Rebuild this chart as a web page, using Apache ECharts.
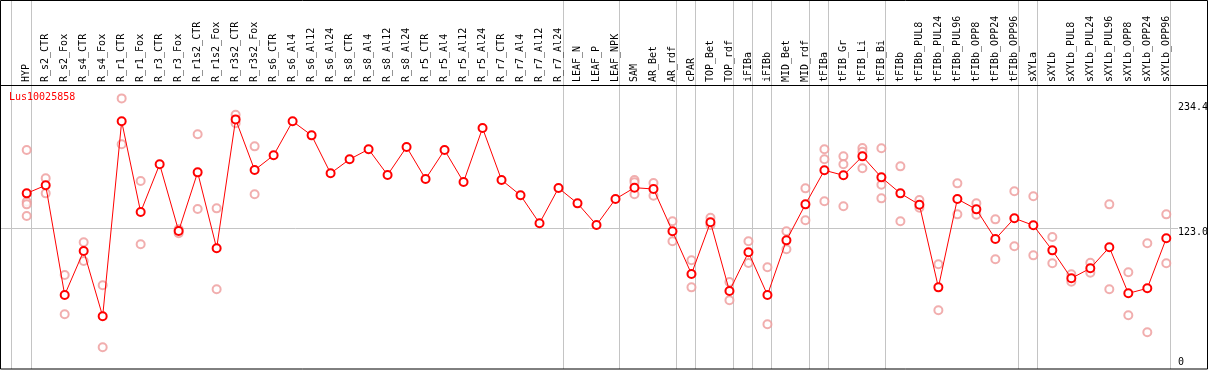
<!DOCTYPE html>
<html><head><meta charset="utf-8">
<script src="https://cdn.jsdelivr.net/npm/echarts@6/dist/echarts.min.js"></script>
<style>html,body{margin:0;padding:0;background:#fff}#c{width:1209px;height:370px}</style>
</head><body><div id="c"></div>
<script>
const categories = ['HYP','R_s2_CTR','R_s2_Fox','R_s4_CTR','R_s4_Fox','R_r1_CTR','R_r1_Fox','R_r3_CTR','R_r3_Fox','R_r1s2_CTR','R_r1s2_Fox','R_r3s2_CTR','R_r3s2_Fox','R_s6_CTR','R_s6_Al4','R_s6_Al12','R_s6_Al24','R_s8_CTR','R_s8_Al4','R_s8_Al12','R_s8_Al24','R_r5_CTR','R_r5_Al4','R_r5_Al12','R_r5_Al24','R_r7_CTR','R_r7_Al4','R_r7_Al12','R_r7_Al24','LEAF_N','LEAF_P','LEAF_NPK','SAM','AR_Bet','AR_rdf','cPAR','TOP_Bet','TOP_rdf','iFIBa','iFIBb','MID_Bet','MID_rdf','tFIBa','tFIB_Gr','tFIB_Li','tFIB_Bi','tFIBb','tFIBb_PUL8','tFIBb_PUL24','tFIBb_PUL96','tFIBb_OPP8','tFIBb_OPP24','tFIBb_OPP96','sXYLa','sXYLb','sXYLb_PUL8','sXYLb_PUL24','sXYLb_PUL96','sXYLb_OPP8','sXYLb_OPP24','sXYLb_OPP96'];

const meanValues = [155.3,162.7,61.9,102.3,42.3,221.5,138.1,182.0,120.7,174.6,104.8,223.3,176.7,190.3,221.5,208.6,173.7,186.6,195.8,172.2,197.9,168.5,195.1,165.7,215.3,167.6,153.5,127.8,160.2,146.1,126.2,150.1,160.5,159.3,120.4,81.2,128.7,65.5,101.1,61.9,112.1,145.2,176.5,171.9,189.3,170.0,155.3,144.9,68.9,150.1,140.6,113.3,132.4,125.9,102.9,77.2,86.4,105.7,63.4,68.0,114.0];

const replicateValues = [
  [195.1,147.6,145.2,134.5], [169.1,155.3], [80.2,44.1], [110.3,93.1], [70.8,13.8],
  [242.6,200.4], [166.6,108.5], [], [122.2,118.6], [209.6,140.9], [141.5,67.1],
  [227.6,219.7], [198.5,154.4],
  [], [], [], [], [], [], [], [], [], [], [], [], [], [], [], [], [], [], [],
  [167.6,165.4,154.4], [164.8,153.1], [129.6,111.2], [93.8,68.9], [132.9,126.2],
  [73.8,57.0], [111.2,91.3], [87.3,34.9], [120.4,103.9], [159.9,130.5],
  [195.8,186.6,148.0], [189.3,182.0,143.4], [197.0,193.6,178.3], [196.7,163.2,150.7],
  [180.1,129.6], [149.2,142.1], [90.1,47.8], [164.5,136.0], [146.1,135.7],
  [131.4,94.7], [157.2,106.6], [152.6,98.3], [115.2,91.0], [80.9,74.1],
  [91.5,82.4], [145.2,67.1], [82.7,43.2], [109.4,27.6], [136.0,91.0]
];

const groupEnds = ['HYP','R_r7_Al24','LEAF_NPK','AR_rdf','cPAR','TOP_rdf','iFIBa','iFIBb','MID_rdf','tFIBa','tFIB_Bi','tFIBb_OPP96','sXYLa','sXYLb_OPP96'];
const yTickValues = [234.4, 123.0, 0];
const yTickLabels = ['234.4', '123.0', '0'];
const gridValues = [123.0];
const geneName = 'Lus10025858';

const FONT = '"DejaVu Sans Mono", monospace';
const chart = echarts.init(document.getElementById('c'), null, {renderer: 'canvas'});

const repData = [];
replicateValues.forEach((arr, i) => arr.forEach(v => repData.push([categories[i], v])));

chart.setOption({
  animation: false,
  backgroundColor: '#ffffff',
  grid: {left: 26.7, right: 42.7, top: 85, bottom: 7.7, containLabel: false},
  xAxis: {
    type: 'category', data: categories, position: 'top', boundaryGap: false,
    axisLine: {show: false}, axisTick: {show: false}, splitLine: {show: false},
    axisLabel: {rotate: 90, interval: 0, margin: 3, color: '#000', fontFamily: FONT, fontSize: 10}
  },
  yAxis: {type: 'value', min: 0, max: 254.9, show: false, splitLine: {show: false}},
  series: [
    {
      type: 'scatter', data: repData, symbol: 'emptyCircle', symbolSize: 8, z: 2,
      itemStyle: {color: '#ee9a9a', borderColor: '#ee9a9a', borderWidth: 1.5}
    },
    {
      type: 'line', data: meanValues, symbol: 'emptyCircle', symbolSize: 8, z: 3,
      lineStyle: {color: '#ff0000', width: 1},
      itemStyle: {color: '#ff0000', borderColor: '#ff0000', borderWidth: 1.5}
    }
  ]
});

const g = [];
const px = c => chart.convertToPixel({xAxisIndex: 0}, c);
const py = v => chart.convertToPixel({yAxisIndex: 0}, v);
const vline = x => ({type: 'line', z: -1, silent: true, shape: {x1: Math.round(x) + 0.5, y1: 0, x2: Math.round(x) + 0.5, y2: 369}, style: {stroke: '#c4c4c4', lineWidth: 1}});
g.push(vline(px(categories[0]) - 16));
groupEnds.forEach(c => g.push(vline(px(c) + 4)));
gridValues.forEach(v => {
  const y = Math.round(py(v)) + 0.5;
  g.push({type: 'line', z: -1, silent: true, shape: {x1: 1, y1: y, x2: 1178, y2: y}, style: {stroke: '#c4c4c4', lineWidth: 1}});
});
yTickValues.forEach((v, i) => {
  const off = gridValues.indexOf(v) >= 0 ? 3.5 : 0;
  g.push({type: 'text', silent: true, x: 1178, y: py(v) + off, style: {text: yTickLabels[i], fill: '#000', font: '10px ' + FONT, verticalAlign: 'middle', align: 'left'}});
});
g.push({type: 'text', silent: true, x: 9, y: 97, style: {text: geneName, fill: '#ff0000', font: '10px ' + FONT, verticalAlign: 'middle', align: 'left'}});
g.push({type: 'line', silent: true, shape: {x1: 0, y1: 85.5, x2: 1208, y2: 85.5}, style: {stroke: '#000', lineWidth: 1}});
g.push({type: 'rect', silent: true, shape: {x: 0.5, y: 0.5, width: 1207, height: 368.5}, style: {stroke: '#000', fill: null, lineWidth: 1}});
chart.setOption({graphic: g});
</script>
</body></html>
